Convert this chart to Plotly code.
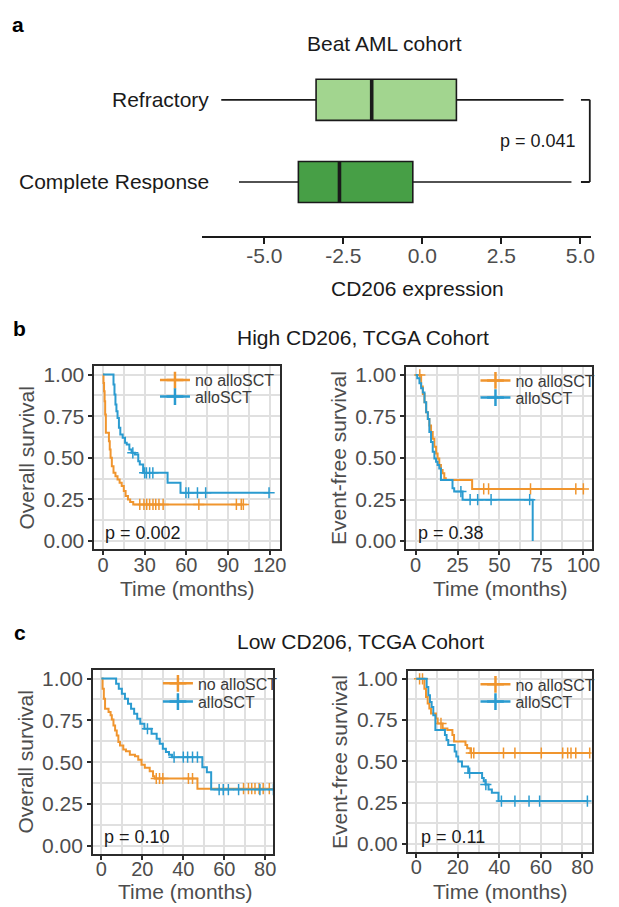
import plotly.graph_objects as go

W, H = 619, 907


def fx(p):
    """pixel x -> paper x"""
    return p / W


def fy(p):
    """pixel y (from top) -> paper y"""
    return 1 - p / H


# ---------------- panel a: Beat AML box plot ----------------
box_groups = ["Refractory", "Complete Response"]
box_lower = [-6.36, -5.80]
box_q1 = [-3.36, -3.92]
box_median = [-1.60, -2.62]
box_q3 = [1.08, -0.30]
box_upper = [4.47, 4.72]
box_colors = ["#A2D58F", "#479F46"]
box_ticks = [-5.0, -2.5, 0.0, 2.5, 5.0]
box_ticktext = ["-5.0", "-2.5", "0.0", "2.5", "5.0"]
box_pvalue = "p = 0.041"

# ---------------- panels b/c: Kaplan-Meier curves ----------------
groups = ["no alloSCT", "alloSCT"]
group_colors = ["#F0952E", "#2A9BD0"]

# High CD206, overall survival
os_high_no_t = [0, 0.4, 0.8, 1.2, 1.6, 2.1, 4.3, 4.9, 5.5, 6.4, 7.6, 9.0, 10.5, 12.0, 13.5, 15.0, 16.3, 18.0, 19.6, 21.8]
os_high_no_s = [1.0, 0.95, 0.90, 0.84, 0.76, 0.65, 0.60, 0.55, 0.50, 0.45, 0.41, 0.39, 0.37, 0.35, 0.33, 0.30, 0.27, 0.25, 0.235, 0.22]
os_high_no_cens = [26.5, 29.5, 31.5, 33.6, 36.0, 38.0, 40.3, 43.3, 69.0, 96.0, 99.5, 101.0]
os_high_sct_t = [0, 7.6, 8.3, 9.0, 9.7, 10.5, 11.5, 12.5, 14.2, 15.9, 17.1, 19.0, 20.6, 23.0, 25.4, 26.5, 28.9, 46.5, 55.8]
os_high_sct_s = [1.0, 0.94, 0.88, 0.82, 0.78, 0.74, 0.68, 0.64, 0.62, 0.59, 0.58, 0.55, 0.53, 0.52, 0.48, 0.46, 0.41, 0.35, 0.29]
os_high_sct_cens = [21.5, 30.0, 31.3, 33.6, 35.9, 59.7, 61.6, 68.0, 73.9, 119.5]

# High CD206, event-free survival
efs_high_no_t = [0, 3.3, 4.3, 5.3, 6.3, 7.3, 8.2, 9.2, 10.2, 11.2, 12.2, 13.1, 14.1, 15.1, 16.1, 17.1, 18.0, 33.7]
efs_high_no_s = [1.0, 0.93, 0.885, 0.835, 0.775, 0.735, 0.696, 0.656, 0.616, 0.567, 0.527, 0.497, 0.457, 0.428, 0.408, 0.378, 0.368, 0.314]
efs_high_no_cens = [2.5, 40.6, 43.5, 68.5, 95.5, 100.0]
efs_high_sct_t = [0, 1.0, 2.3, 3.3, 4.3, 5.3, 6.3, 7.3, 8.2, 9.2, 10.2, 11.2, 12.2, 13.1, 14.1, 15.1, 22.0, 23.0, 28.0, 69.8]
efs_high_sct_s = [1.0, 0.98, 0.95, 0.92, 0.894, 0.835, 0.775, 0.735, 0.656, 0.596, 0.537, 0.497, 0.477, 0.457, 0.437, 0.368, 0.318, 0.298, 0.249, 0.0]
efs_high_sct_cens = [27.0, 32.5, 37.0, 45.0, 68.0]

# Low CD206, overall survival
os_low_no_t = [0, 0.6, 1.2, 1.8, 3.5, 4.5, 5.1, 5.9, 6.7, 7.5, 8.3, 9.1, 10.7, 12.0, 13.9, 16.4, 18.0, 19.6, 21.2, 23.6, 25.2, 26.0, 46.9]
os_low_no_s = [1.0, 0.94, 0.88, 0.82, 0.80, 0.78, 0.755, 0.72, 0.69, 0.66, 0.62, 0.60, 0.575, 0.565, 0.545, 0.535, 0.515, 0.485, 0.466, 0.446, 0.416, 0.402, 0.341]
os_low_no_cens = [26.8, 28.4, 30.0, 42.5, 44.5, 69.4, 71.8, 73.4, 75.0, 77.0, 79.0, 82.0]
os_low_sct_t = [0, 7.2, 8.5, 10.0, 11.5, 13.0, 14.5, 16.0, 17.5, 19.0, 21.0, 24.5, 27.0, 28.5, 30.0, 31.5, 33.0, 34.5, 49.3, 51.5, 53.6]
os_low_sct_s = [1.0, 0.97, 0.94, 0.91, 0.88, 0.85, 0.82, 0.79, 0.76, 0.73, 0.70, 0.67, 0.64, 0.61, 0.58, 0.56, 0.545, 0.53, 0.47, 0.44, 0.336]
os_low_sct_cens = [22.5, 35.5, 40.0, 42.1, 44.5, 46.9, 57.5, 59.5, 62.0, 67.0, 77.4, 84.0]

# Low CD206, event-free survival
efs_low_no_t = [0, 3.9, 4.7, 5.5, 6.3, 7.1, 9.5, 10.3, 12.7, 15.0, 17.4, 18.2, 23.7, 24.5, 26.1]
efs_low_no_s = [1.0, 0.94, 0.89, 0.85, 0.82, 0.79, 0.76, 0.73, 0.70, 0.69, 0.66, 0.62, 0.60, 0.58, 0.551]
efs_low_no_cens = [1.6, 3.0, 11.9, 26.5, 27.7, 42.0, 47.5, 60.2, 70.5, 72.9, 74.5, 76.8, 83.5]
efs_low_sct_t = [0, 5.0, 5.8, 6.6, 7.4, 8.2, 9.2, 13.8, 14.6, 15.4, 18.5, 19.3, 20.2, 22.0, 25.0, 31.7, 32.5, 33.3, 34.8, 36.4, 39.6]
efs_low_sct_s = [1.0, 0.95, 0.90, 0.86, 0.83, 0.78, 0.69, 0.66, 0.63, 0.60, 0.56, 0.53, 0.50, 0.47, 0.43, 0.40, 0.38, 0.36, 0.33, 0.31, 0.26]
efs_low_sct_cens = [25.7, 33.5, 41.0, 47.5, 54.3, 59.4, 82.4]

km_titles = ["High CD206, TCGA Cohort", "Low CD206, TCGA Cohort"]
km_ylabels = ["Overall survival", "Event-free survival"]
km_pvalues = ["p = 0.002", "p = 0.38", "p = 0.10", "p = 0.11"]
km_xticks = [[0, 30, 60, 90, 120], [0, 25, 50, 75, 100], [0, 20, 40, 60, 80], [0, 20, 40, 60, 80]]
km_yticks = [0.0, 0.25, 0.5, 0.75, 1.0]

km_panels = [
    [(os_high_no_t, os_high_no_s, os_high_no_cens), (os_high_sct_t, os_high_sct_s, os_high_sct_cens)],
    [(efs_high_no_t, efs_high_no_s, efs_high_no_cens), (efs_high_sct_t, efs_high_sct_s, efs_high_sct_cens)],
    [(os_low_no_t, os_low_no_s, os_low_no_cens), (os_low_sct_t, os_low_sct_s, os_low_sct_cens)],
    [(efs_low_no_t, efs_low_no_s, efs_low_no_cens), (efs_low_sct_t, efs_low_sct_s, efs_low_sct_cens)],
]

# ---------------- layout geometry (pixels) ----------------
SANS = "Liberation Sans, Arial, Helvetica, sans-serif"
TICK_GRAY = "#4d4d4d"
DARK = "#1a1a1a"
GRID = "#e0e0e0"

km_frames = [  # left, right, top, bottom
    (95.7, 283.7, 365.7, 550.0),
    (411.7, 600.0, 366.0, 550.0),
    (94.3, 277.0, 671.7, 856.7),
    (413.3, 599.3, 672.0, 855.0),
]
km_xranges = [[-6.1, 127.4], [-5.5, 105.3], [-4.05, 84.0], [-4.0, 84.4]]
km_xlabel_standoff = [-7, -7, -8, -8]
legend_left = [157, 481.7, 160, 481.7]
legend_rows = [(379.7, 396.3), (380.0, 397.3), (685.0, 703.3), (686.0, 703.3)]
pvalue_pos = [(144.5, 534), (457, 534), (139, 840), (458.5, 840)]
ytitle_pos = [(27, 458), (343.5, 458), (26, 764), (344.5, 764)]
xtitle_pos = [(189.7, 589), (507, 589), (188, 894.5), (507, 894.5)]

fig = go.Figure()

# ---------------- panel a traces ----------------
for i, g in enumerate(box_groups):
    pos = len(box_groups) - 1 - i
    fig.add_trace(go.Box(
        y=[pos], q1=[box_q1[i]], median=[box_median[i]], q3=[box_q3[i]],
        lowerfence=[box_lower[i]], upperfence=[box_upper[i]],
        orientation="h", width=0.5, whiskerwidth=0,
        fillcolor=box_colors[i], line=dict(color=DARK, width=1.6),
        boxpoints=False, showlegend=False, hoverinfo="skip",
        xaxis="x", yaxis="y", name=g,
    ))
    # thicker median bar drawn over the box
    fig.add_trace(go.Scatter(
        x=[box_median[i], box_median[i]], y=[pos - 0.25, pos + 0.25],
        mode="lines", line=dict(color=DARK, width=3.6),
        showlegend=False, hoverinfo="skip", xaxis="x", yaxis="y",
    ))


def step_value(times, surv, t):
    val = surv[0]
    for tt, ss in zip(times, surv):
        if tt <= t:
            val = ss
    return val


# ---------------- KM traces ----------------
for k, panel in enumerate(km_panels):
    ax = str(k + 2)
    for j, (times, surv, cens) in enumerate(panel):
        color = group_colors[j]
        xs = list(times)
        ys = list(surv)
        if cens and max(cens) > xs[-1]:
            xs.append(max(cens))
            ys.append(ys[-1])
        fig.add_trace(go.Scatter(
            x=xs, y=ys, mode="lines", line=dict(color=color, width=2, shape="hv"),
            showlegend=False, hoverinfo="skip", xaxis="x" + ax, yaxis="y" + ax,
        ))
        fig.add_trace(go.Scatter(
            x=cens, y=[step_value(times, surv, c) for c in cens], mode="markers",
            marker=dict(symbol="cross-thin", size=8, color=color, line=dict(color=color, width=1.5)),
            showlegend=False, hoverinfo="skip", xaxis="x" + ax, yaxis="y" + ax,
        ))
        # legend key
        leg_idx = 2 * k + j + 1
        leg_name = "legend" if leg_idx == 1 else "legend%d" % leg_idx
        fig.add_trace(go.Scatter(
            x=[None], y=[None], mode="lines+markers", name=groups[j],
            line=dict(color=color, width=2.5),
            marker=dict(symbol="cross-thin", size=12, color=color, line=dict(color=color, width=2.5)),
            legend=leg_name, showlegend=True, xaxis="x" + ax, yaxis="y" + ax,
        ))

# ---------------- layout ----------------
layout = dict(
    width=W, height=H, margin=dict(l=0, r=0, t=0, b=0),
    paper_bgcolor="white", plot_bgcolor="white",
    font=dict(family=SANS, color=DARK),
    showlegend=True,
)

# panel a axes
a_left, a_right, a_top, a_bottom = 204.3, 598.8, 50.0, 235.0
layout["xaxis"] = dict(
    domain=[fx(a_left), fx(a_right)], range=[-6.98, 5.34], anchor="y",
    showgrid=False, zeroline=False, showline=True, linecolor=DARK, linewidth=2,
    ticks="outside", ticklen=6, tickwidth=2, tickcolor=DARK,
    tickvals=box_ticks, ticktext=box_ticktext,
    tickfont=dict(size=21, color=TICK_GRAY, family=SANS), ticklabelstandoff=-7,
)
layout["yaxis"] = dict(
    domain=[fy(a_bottom), fy(a_top)], range=[-0.663, 1.574], anchor="x",
    showgrid=False, zeroline=False, showline=False, showticklabels=False, ticks="",
)

annotations = []
shapes = []

# category labels
for i, g in enumerate(box_groups):
    pos = len(box_groups) - 1 - i
    annotations.append(dict(
        text=g, xref="paper", yref="y", x=fx(213.4), y=pos, xanchor="right", yanchor="middle",
        showarrow=False, font=dict(size=21, color=DARK, family=SANS),
    ))

annotations.append(dict(text="Beat AML cohort", xref="paper", yref="paper", x=fx(390), y=fy(41),
                        xanchor="center", yanchor="middle", showarrow=False,
                        font=dict(size=21, color=DARK, family=SANS)))
annotations.append(dict(text="CD206 expression", xref="paper", yref="paper", x=fx(423), y=fy(287),
                        xanchor="center", yanchor="middle", showarrow=False,
                        font=dict(size=21, color=DARK, family=SANS)))

# significance bracket
br_x, br_in = 5.30, 5.02
shapes.append(dict(type="line", xref="x", yref="y", x0=br_x, x1=br_x, y0=0, y1=1,
                   line=dict(color=DARK, width=1.8)))
shapes.append(dict(type="line", xref="x", yref="y", x0=br_in, x1=br_x, y0=1, y1=1,
                   line=dict(color=DARK, width=1.8)))
shapes.append(dict(type="line", xref="x", yref="y", x0=br_in, x1=br_x, y0=0, y1=0,
                   line=dict(color=DARK, width=1.8)))
annotations.append(dict(text=box_pvalue, xref="x", yref="y", x=3.66, y=0.5,
                        xanchor="center", yanchor="middle", showarrow=False,
                        font=dict(size=18, color=DARK, family=SANS)))

# panel letters
for letter, (lx, ly) in zip(["a", "b", "c"], [(18, 22), (20, 328), (20, 634)]):
    annotations.append(dict(text="<b>%s</b>" % letter, xref="paper", yref="paper", x=fx(lx), y=fy(ly),
                            xanchor="center", yanchor="middle", showarrow=False,
                            font=dict(size=21, color="black", family=SANS)))

# KM panel titles
annotations.append(dict(text=km_titles[0], xref="paper", yref="paper", x=fx(368), y=fy(337),
                        xanchor="center", yanchor="middle", showarrow=False,
                        font=dict(size=21, color=DARK, family=SANS)))
annotations.append(dict(text=km_titles[1], xref="paper", yref="paper", x=fx(365), y=fy(643),
                        xanchor="center", yanchor="middle", showarrow=False,
                        font=dict(size=21, color=DARK, family=SANS)))

for k in range(4):
    ax = str(k + 2)
    left, right, top, bottom = km_frames[k]
    xt = km_xticks[k]
    layout["xaxis" + ax] = dict(
        domain=[fx(left), fx(right)], range=km_xranges[k], anchor="y" + ax,
        showline=True, mirror=True, linecolor="#2b2b2b", linewidth=2,
        zeroline=False, showgrid=True, gridcolor=GRID, gridwidth=1.6,
        minor=dict(dtick=(xt[1] - xt[0]) / 2, tick0=0, showgrid=True, gridcolor=GRID, gridwidth=1.6),
        ticks="outside", ticklen=4, tickwidth=1.6, tickcolor="#2b2b2b",
        tickvals=xt, tickfont=dict(size=20, color=TICK_GRAY, family=SANS),
        ticklabelstandoff=km_xlabel_standoff[k],
    )
    layout["yaxis" + ax] = dict(
        domain=[fy(bottom), fy(top)], range=[-0.05, 1.05], anchor="x" + ax,
        showline=True, mirror=True, linecolor="#2b2b2b", linewidth=2,
        zeroline=False, showgrid=True, gridcolor=GRID, gridwidth=1.6,
        minor=dict(dtick=0.125, tick0=0, showgrid=True, gridcolor=GRID, gridwidth=1.6),
        ticks="outside", ticklen=4, tickwidth=1.6, tickcolor="#2b2b2b",
        tickvals=km_yticks, tickformat=".2f", tickfont=dict(size=21, color=TICK_GRAY, family=SANS),
    )
    # axis titles
    annotations.append(dict(text=km_ylabels[k % 2], xref="paper", yref="paper",
                            x=fx(ytitle_pos[k][0]), y=fy(ytitle_pos[k][1]), textangle=-90,
                            xanchor="center", yanchor="middle", showarrow=False,
                            font=dict(size=21, color=TICK_GRAY, family=SANS)))
    annotations.append(dict(text="Time (months)", xref="paper", yref="paper",
                            x=fx(xtitle_pos[k][0]), y=fy(xtitle_pos[k][1]),
                            xanchor="center", yanchor="middle", showarrow=False,
                            font=dict(size=21, color=TICK_GRAY, family=SANS)))
    annotations.append(dict(text=km_pvalues[k], xref="paper", yref="paper",
                            x=fx(pvalue_pos[k][0]), y=fy(pvalue_pos[k][1]),
                            xanchor="center", yanchor="middle", showarrow=False,
                            font=dict(size=18, color=DARK, family=SANS)))
    for j in range(2):
        leg_idx = 2 * k + j + 1
        leg_name = "legend" if leg_idx == 1 else "legend%d" % leg_idx
        layout[leg_name] = dict(
            x=fx(legend_left[k]), xanchor="left", y=fy(legend_rows[k][j]), yanchor="middle",
            bgcolor="rgba(0,0,0,0)", borderwidth=0, itemwidth=30,
            font=dict(size=16, color="#3a3a3a", family=SANS),
        )

layout["annotations"] = annotations
layout["shapes"] = shapes
fig.update_layout(**layout)

fig.write_html("out.html")
